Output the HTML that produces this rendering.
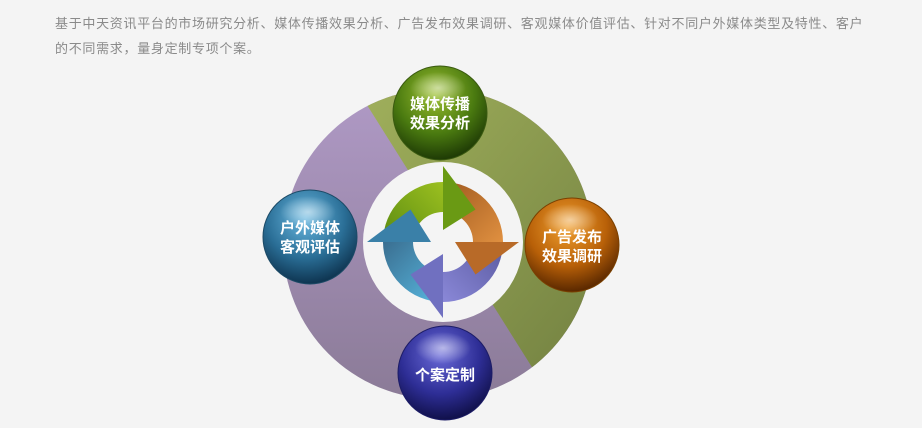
<!DOCTYPE html>
<html><head><meta charset="utf-8"><style>
body{margin:0;width:922px;height:428px;background:#f4f4f4;overflow:hidden;font-family:"Liberation Sans","Noto Sans CJK SC",sans-serif}
.t{position:absolute;left:55px;top:11px;white-space:nowrap;font-size:13px;letter-spacing:0.7px;line-height:25px;color:#8a8a8a}
svg{position:absolute;left:0;top:0}
</style></head><body>
<div class="t">基于中天资讯平台的市场研究分析、媒体传播效果分析、广告发布效果调研、客观媒体价值评估、针对不同户外媒体类型及特性、客户<br>的不同需求，量身定制专项个案。</div>
<svg width="922" height="428" viewBox="0 0 922 428">
<defs>
<clipPath id="c"><circle cx="438" cy="244" r="155"/></clipPath>
<linearGradient id="gp" x1="0" y1="0" x2="0" y2="1"><stop offset="0" stop-color="#b09ac6"/><stop offset="1" stop-color="#8a7a96"/></linearGradient>
<linearGradient id="gg" x1="0" y1="0" x2="1" y2="1"><stop offset="0" stop-color="#a4b45e"/><stop offset="1" stop-color="#6e7c3e"/></linearGradient>
<radialGradient id="s1" cx="0.45" cy="0.3" r="0.7"><stop offset="0" stop-color="#9cc030"/><stop offset="0.6" stop-color="#4a7a10"/><stop offset="1" stop-color="#1e3a05"/></radialGradient>
<radialGradient id="s2" cx="0.45" cy="0.3" r="0.7"><stop offset="0" stop-color="#f0a030"/><stop offset="0.6" stop-color="#b86008"/><stop offset="1" stop-color="#5a2800"/></radialGradient>
<radialGradient id="s3" cx="0.45" cy="0.3" r="0.7"><stop offset="0" stop-color="#6ab8e0"/><stop offset="0.6" stop-color="#2a6e96"/><stop offset="1" stop-color="#0e3450"/></radialGradient>
<radialGradient id="s4" cx="0.45" cy="0.3" r="0.7"><stop offset="0" stop-color="#6a6ad8"/><stop offset="0.6" stop-color="#2e2e96"/><stop offset="1" stop-color="#10104a"/></radialGradient>
<radialGradient id="hl" cx="0.5" cy="0.5" r="0.5"><stop offset="0" stop-color="#fff" stop-opacity="0.55"/><stop offset="1" stop-color="#fff" stop-opacity="0"/></radialGradient>
<linearGradient id="a1" x1="0" y1="1" x2="1" y2="0"><stop offset="0" stop-color="#5a8a10"/><stop offset="1" stop-color="#9cc020"/></linearGradient>
<linearGradient id="a2" x1="0" y1="1" x2="1" y2="0"><stop offset="0" stop-color="#a05a20"/><stop offset="1" stop-color="#e09040"/></linearGradient>
<linearGradient id="a3" x1="0" y1="1" x2="1" y2="0"><stop offset="0" stop-color="#5a5aa0"/><stop offset="1" stop-color="#8a88d8"/></linearGradient>
<linearGradient id="a4" x1="0" y1="1" x2="1" y2="0"><stop offset="0" stop-color="#58b8e0"/><stop offset="1" stop-color="#3a6e90"/></linearGradient>
</defs>
<g clip-path="url(#c)">
<rect x="280" y="85" width="320" height="320" fill="url(#gp)"/>
<polygon points="340,62 367,105 535,372 560,412 620,412 620,62" fill="url(#gg)"/>
</g>
<circle cx="443" cy="242" r="80" fill="#f4f4f4"/>
<g transform="translate(443,242)">
<path d="M -60 0 A 60 60 0 0 1 0 -60 L 0 -30 A 30 30 0 0 0 -30 0 Z" fill="url(#a1)"/>
<path d="M -60 0 A 60 60 0 0 1 0 -60 L 0 -30 A 30 30 0 0 0 -30 0 Z" fill="url(#a2)" transform="rotate(90)"/>
<path d="M -60 0 A 60 60 0 0 1 0 -60 L 0 -30 A 30 30 0 0 0 -30 0 Z" fill="url(#a3)" transform="rotate(180)"/>
<path d="M -60 0 A 60 60 0 0 1 0 -60 L 0 -30 A 30 30 0 0 0 -30 0 Z" fill="url(#a4)" transform="rotate(270)"/>
<path d="M 0 -76 L 32.5 -32.5 L 0 -12 Z" fill="#6a9a14"/>
<path d="M 0 -76 L 32.5 -32.5 L 0 -12 Z" fill="#b86a28" transform="rotate(90)"/>
<path d="M 0 -76 L 32.5 -32.5 L 0 -12 Z" fill="#7070c0" transform="rotate(180)"/>
<path d="M 0 -76 L 32.5 -32.5 L 0 -12 Z" fill="#3a80a8" transform="rotate(270)"/>
</g>
<g font-family="Liberation Sans, Noto Sans CJK SC, sans-serif" font-size="15" font-weight="bold" fill="#fff" text-anchor="middle">
<circle cx="440" cy="113" r="47" fill="url(#s1)" stroke="#3a5a10" stroke-width="1"/>
<ellipse cx="438" cy="88" rx="28" ry="16" fill="url(#hl)"/>
<text x="440" y="109">媒体传播</text><text x="440" y="128">效果分析</text>
<circle cx="572" cy="245" r="47" fill="url(#s2)" stroke="#7a4000" stroke-width="1"/>
<ellipse cx="570" cy="220" rx="28" ry="16" fill="url(#hl)"/>
<text x="572" y="242">广告发布</text><text x="572" y="261">效果调研</text>
<circle cx="310" cy="237" r="47" fill="url(#s3)" stroke="#1c4a66" stroke-width="1"/>
<ellipse cx="308" cy="212" rx="28" ry="16" fill="url(#hl)"/>
<text x="310" y="233">户外媒体</text><text x="310" y="252">客观评估</text>
<circle cx="445" cy="373" r="47" fill="url(#s4)" stroke="#1c1c66" stroke-width="1"/>
<ellipse cx="443" cy="348" rx="28" ry="16" fill="url(#hl)"/>
<text x="445" y="380">个案定制</text>
</g>
</svg>
</body></html>
